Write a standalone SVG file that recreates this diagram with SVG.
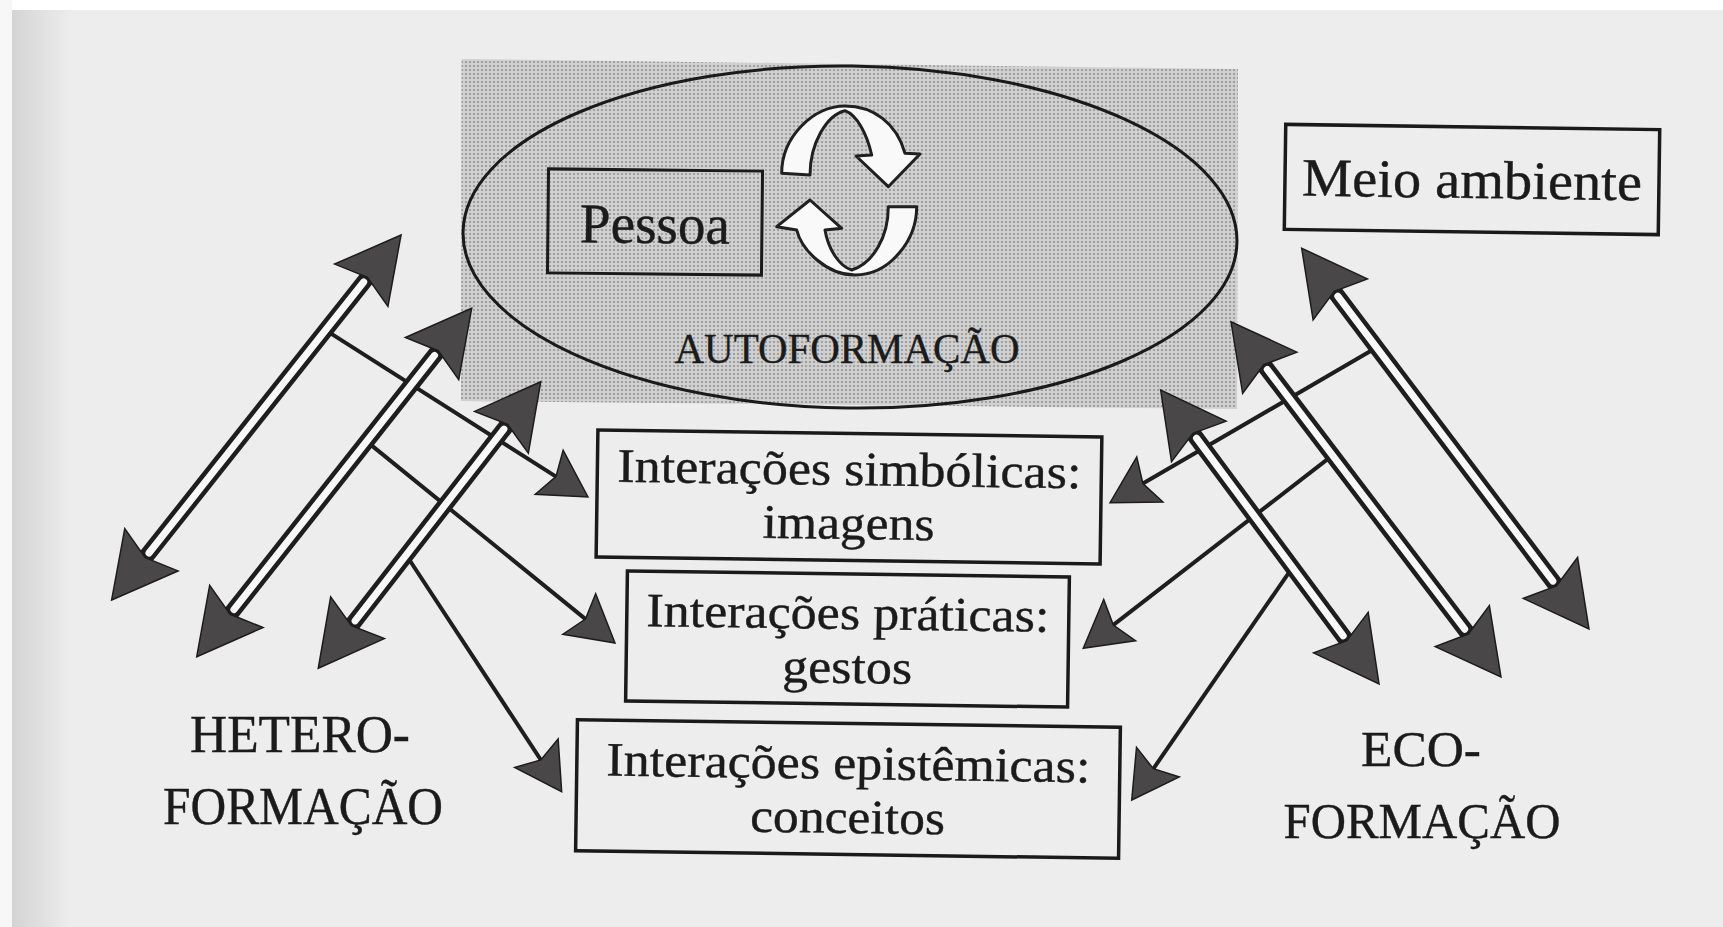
<svg xmlns="http://www.w3.org/2000/svg" width="1723" height="927" viewBox="0 0 1723 927">
<defs>
<style>
.t{font-family:"Liberation Serif","Times New Roman",serif;fill:#1b1b1b;stroke:#1b1b1b;stroke-width:0.4}
.box{fill:none;stroke:#1a1a1a;stroke-width:3.5}
.shaft{fill:none;stroke:#1e1e1e;stroke-width:16;marker-start:url(#dh);marker-end:url(#dh)}
.core{fill:none;stroke:#f8f8f8;stroke-width:7;stroke-linecap:round}
.line{fill:none;stroke:#1e1e1e;stroke-width:4;marker-end:url(#sh)}
.cyc{fill:#f9f9f9;stroke:#202020;stroke-width:3;stroke-linejoin:round}
.head{fill:#4a4749;stroke:#1c1c1c;stroke-width:1.5;stroke-linejoin:miter}
</style>
<pattern id="dots" width="4" height="4" patternUnits="userSpaceOnUse">
<rect width="4" height="4" fill="#d0d0d0"/>
<circle cx="2" cy="2" r="1.1" fill="#949494"/>
</pattern>
<linearGradient id="shade" x1="0" y1="0" x2="1" y2="0">
<stop offset="0" stop-color="#d4d4d4"/>
<stop offset="1" stop-color="#ededed"/>
</linearGradient>
<marker id="dh" markerUnits="userSpaceOnUse" viewBox="-70 -40 80 80" markerWidth="80" markerHeight="80" refX="-40" refY="0" orient="auto-start-reverse" overflow="visible">
<path class="head" d="M0,0 L-64,-34 L-54,0 L-64,34 Z"/>
</marker>
<marker id="sh" markerUnits="userSpaceOnUse" viewBox="-50 -30 60 60" markerWidth="60" markerHeight="60" refX="-30" refY="0" orient="auto" overflow="visible">
<path class="head" d="M0,0 L-46,-26 L-38,0 L-46,26 Z"/>
</marker>
</defs>

<g id="page">
<rect x="0" y="0" width="1723" height="927" fill="#ededed"/>
<rect x="12" y="0" width="60" height="927" fill="url(#shade)"/>
<rect x="0" y="0" width="1723" height="10" fill="#ffffff"/>
<rect x="0" y="0" width="12" height="927" fill="#f7f7f7"/>
</g>

<g id="autoformacao">
<polygon points="461.5,59 1238,69 1237,409 461,401" fill="url(#dots)"/>
<ellipse cx="850" cy="237" rx="387" ry="171" transform="rotate(0.7 850 237)" fill="none" stroke="#1a1a1a" stroke-width="3"/>
<text class="t" x="847" y="363" font-size="43" text-anchor="middle" textLength="345" lengthAdjust="spacingAndGlyphs">AUTOFORMAÇÃO</text>
</g>

<g id="pessoa" transform="rotate(0.6 655 222)">
<rect x="548" y="170" width="214" height="104" fill="none" stroke="#1a1a1a" stroke-width="3"/>
<text class="t" x="655" y="243" font-size="56" text-anchor="middle" textLength="150" lengthAdjust="spacingAndGlyphs">Pessoa</text>
</g>

<g id="ciclo">
<path class="cyc" d="M781.7,173.3 L810,175 C810,143.3 826.7,115 845,110.7 C856.7,115 866.7,133.3 871.7,155 L856,156 L888.3,186.7 L920,154 L905,153.3 C896.7,123.3 873.3,106 845,106 C813.3,106 781.7,136.7 781.7,173.3 Z"/>
<path class="cyc" d="M888.3,206.7 L916.7,206.7 C916.7,240 890,275 855,275 C826.7,275 801.7,250 796.7,230 L776.7,226.7 L810,200 L841.7,228.3 L825,230 C828.3,250 840,266.7 851.7,270 C873.3,263.3 888.3,236.7 888.3,206.7 Z"/>
</g>

<g id="meio-ambiente" transform="rotate(0.8 1472 179.5)">
<rect class="box" x="1285" y="127" width="374" height="105"/>
<text class="t" x="1472" y="198" font-size="54" text-anchor="middle" textLength="340" lengthAdjust="spacingAndGlyphs">Meio ambiente</text>
</g>

<g id="simbolicas" transform="rotate(0.8 849 497)">
<rect class="box" x="597" y="433.5" width="504" height="127"/>
<text class="t" font-size="48" text-anchor="middle" lengthAdjust="spacingAndGlyphs"><tspan x="849" y="485" textLength="464" lengthAdjust="spacingAndGlyphs">Interações simbólicas:</tspan><tspan x="849" y="539" textLength="172" lengthAdjust="spacingAndGlyphs">imagens</tspan></text>
</g>

<g id="praticas" transform="rotate(0.8 847.5 639)">
<rect class="box" x="626.5" y="574" width="442" height="130"/>
<text class="t" font-size="48" text-anchor="middle"><tspan x="847.5" y="629" textLength="403" lengthAdjust="spacingAndGlyphs">Interações práticas:</tspan><tspan x="847.5" y="683" textLength="130" lengthAdjust="spacingAndGlyphs">gestos</tspan></text>
</g>

<g id="epistemicas" transform="rotate(0.8 848 789)">
<rect class="box" x="576.5" y="723.5" width="543" height="131"/>
<text class="t" font-size="48" text-anchor="middle"><tspan x="848" y="779" textLength="484" lengthAdjust="spacingAndGlyphs">Interações epistêmicas:</tspan><tspan x="848" y="833" textLength="195" lengthAdjust="spacingAndGlyphs">conceitos</tspan></text>
</g>

<g id="heteroformacao">
<text class="t" x="300" y="752" font-size="52" text-anchor="middle" textLength="220" lengthAdjust="spacingAndGlyphs">HETERO-</text>
<text class="t" x="303" y="824" font-size="52" text-anchor="middle" textLength="280" lengthAdjust="spacingAndGlyphs">FORMAÇÃO</text>
</g>

<g id="ecoformacao">
<text class="t" x="1421" y="766" font-size="51" text-anchor="middle" textLength="120" lengthAdjust="spacingAndGlyphs">ECO-</text>
<text class="t" x="1422" y="838" font-size="51" text-anchor="middle" textLength="277" lengthAdjust="spacingAndGlyphs">FORMAÇÃO</text>
</g>

<g id="connectors">
<line class="line" x1="325.6" y1="330.1" x2="562.7" y2="480.9"/>
<line class="line" x1="366.6" y1="441.4" x2="591.7" y2="624.1"/>
<line class="line" x1="406.2" y1="555.0" x2="545.2" y2="766.6"/>
<line class="line" x1="1376.6" y1="347.5" x2="1136.0" y2="487.6"/>
<line class="line" x1="1332.5" y1="455.3" x2="1107.0" y2="629.9"/>
<line class="line" x1="1292.2" y1="567.8" x2="1148.8" y2="775.3"/>

<line class="shaft" x1="136.5" y1="568.6" x2="376.2" y2="266.4"/>
<line class="core" x1="149.0" y1="553.0" x2="363.7" y2="282.0"/>
<line class="shaft" x1="221.5" y1="625.3" x2="446.9" y2="339.7"/>
<line class="core" x1="233.9" y1="609.6" x2="434.5" y2="355.4"/>
<line class="shaft" x1="342.8" y1="636.7" x2="516.2" y2="413.3"/>
<line class="core" x1="355.1" y1="620.9" x2="503.9" y2="429.1"/>

<line class="shaft" x1="1325.8" y1="280.2" x2="1564.9" y2="597.1"/>
<line class="core" x1="1337.8" y1="296.2" x2="1552.9" y2="581.1"/>
<line class="shaft" x1="1255.2" y1="353.6" x2="1476.8" y2="645.2"/>
<line class="core" x1="1267.3" y1="369.5" x2="1464.7" y2="629.2"/>
<line class="shaft" x1="1184.5" y1="422.1" x2="1355.2" y2="651.9"/>
<line class="core" x1="1196.5" y1="438.2" x2="1343.2" y2="635.8"/>
</g>
</svg>
